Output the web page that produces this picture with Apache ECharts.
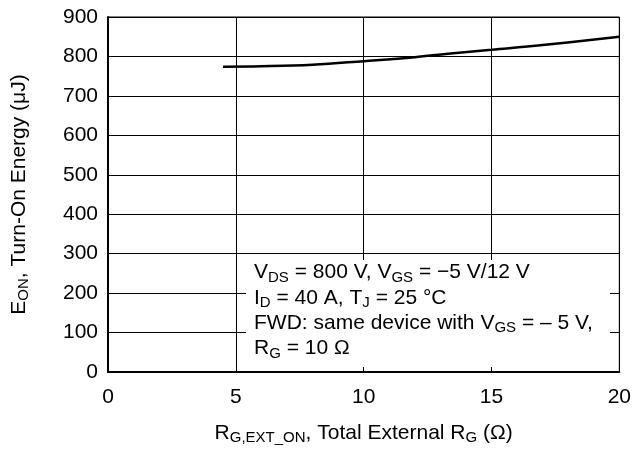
<!DOCTYPE html>
<html><head><meta charset="utf-8">
<script src="https://cdn.jsdelivr.net/npm/echarts@6/dist/echarts.min.js"></script>
<style>html,body{margin:0;padding:0;background:#fff}#c{width:634px;height:450px}</style>
</head><body><div id="c"></div>
<script>
const rgValues = [4.5, 6, 8, 10, 12, 13.3, 15, 17, 20];
const eonValues = [774, 775, 779, 788, 798, 807, 817, 829, 850];
const xTicks = [0, 5, 10, 15, 20];
const yTicks = [0, 100, 200, 300, 400, 500, 600, 700, 800, 900];
const noteLines = [
  'V{s|DS} = 800 V, V{s|GS} = −5 V/12 V',
  'I{s|D} = 40 A, T{s|J} = 25 °C',
  'FWD: same device with V{s|GS} = – 5 V,',
  'R{s|G} = 10 Ω'
];
const xTitle = 'R{s|G,EXT_ON}, Total External R{s|G} (Ω)';
const yTitle = 'E{s|ON}, Turn-On Energy (μJ)';

const FONT = 'Liberation Sans, Arial, sans-serif';
const wrapN = t => t.replace(/(^|\})([^{]+)/g, (m, a, b) => a + '{n|' + b + '}');
const mkRich = (big, small, lh) => ({
  n: {fontSize: big, fontFamily: FONT, color: '#000', lineHeight: lh},
  s: {fontSize: small, fontFamily: FONT, color: '#000', lineHeight: 14, verticalAlign: 'bottom'}
});
const chart = echarts.init(document.getElementById('c'), null, {renderer: 'canvas'});

const option = {
  animation: false,
  backgroundColor: '#fff',
  grid: {left: 108, top: 17, width: 513, height: 359, show: true, borderColor: '#000', borderWidth: 1, backgroundColor: 'transparent'},
  xAxis: {
    type: 'value', min: xTicks[0], max: xTicks[xTicks.length - 1], interval: 5,
    name: wrapN(xTitle),
    nameLocation: 'middle', nameGap: 49,
    nameTextStyle: {rich: mkRich(21, 15, 24)},
    axisLine: {show: true, onZero: false, lineStyle: {color: '#000', width: 2}},
    axisTick: {show: false},
    axisLabel: {fontSize: 21, fontFamily: FONT, color: '#000', margin: 15},
    splitLine: {show: true, lineStyle: {color: '#000', width: 1}}
  },
  yAxis: {
    type: 'value', min: yTicks[0], max: yTicks[yTicks.length - 1], interval: 100,
    name: wrapN(yTitle),
    nameLocation: 'middle', nameGap: 77, nameRotate: 90,
    nameTextStyle: {rich: mkRich(21, 15, 24)},
    axisLine: {show: true, onZero: false, lineStyle: {color: '#000', width: 2}},
    axisTick: {show: false},
    axisLabel: {fontSize: 21, fontFamily: FONT, color: '#000', margin: 10},
    splitLine: {show: true, lineStyle: {color: '#000', width: 1}}
  },
  series: [{
    type: 'line', data: rgValues.map((x, i) => [x, eonValues[i]]),
    smooth: 0.4, showSymbol: false, symbol: 'none',
    lineStyle: {color: '#000', width: 2.5}, z: 3
  }],
  graphic: [
    {type: 'rect', z: 10, shape: {x: 246, y: 260, width: 364, height: 107}, style: {fill: '#fff'}},
    {
      type: 'text', z: 11, left: 254, top: 262,
      style: {text: noteLines.map(wrapN).join('\n'), rich: mkRich(21, 15, 25.3), fill: '#000'}
    }
  ]
};
chart.setOption(option);
</script></body></html>
